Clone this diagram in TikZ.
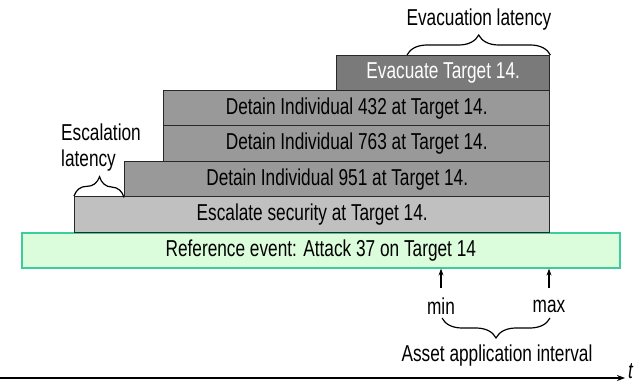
\documentclass[tikz,border=0pt]{standalone}
\usepackage{fontspec}
\setmainfont[FakeStretch=0.75]{Liberation Sans}
\usetikzlibrary{arrows.meta,decorations.pathreplacing}
\definecolor{evacgray}{RGB}{122,122,122}
\definecolor{detaingray}{RGB}{153,153,153}
\definecolor{escgray}{RGB}{192,192,192}
\definecolor{reffill}{RGB}{220,253,220}
\definecolor{refedge}{RGB}{60,205,155}
\definecolor{edge}{RGB}{40,40,40}
\newcommand{\lblfont}{\fontsize{23}{27}\selectfont}
\tikzset{
  bar/.style={draw=edge, line width=1.4pt, inner sep=0pt, anchor=north west,
    font=\lblfont},
  lbl/.style={inner sep=0pt, font=\lblfont},
  bracket/.style={decorate, decoration={brace, amplitude=20pt}, line width=1.2pt},
  tick/.style={line width=1.4pt, -{Stealth[length=7pt,width=5pt]}},
}
\begin{document}
\begin{tikzpicture}[x=1pt, y=-1pt]
  \useasboundingbox (0,0) rectangle (643,385);

  % reference event and the stacked actions above it
  \node[bar, draw=refedge, line width=1.6pt, fill=reffill, minimum width=598pt, minimum height=35pt]
    (ref) at (21,232) {Reference event: Attack 37 on Target 14};
  \node[bar, fill=escgray, minimum width=475pt, minimum height=36pt]
    (esc) at (74,196) {Escalate security at Target 14.};
  \node[bar, fill=detaingray, minimum width=425pt, minimum height=35pt]
    (d951) at (124,161) {Detain Individual 951 at Target 14.};
  \node[bar, fill=detaingray, minimum width=386pt, minimum height=36pt]
    (d763) at (163,125) {Detain Individual 763 at Target 14.};
  \node[bar, fill=detaingray, minimum width=386pt, minimum height=35pt]
    (d432) at (163,90) {Detain Individual 432 at Target 14.};
  \node[bar, fill=evacgray, text=white, minimum width=213pt, minimum height=35pt]
    (evac) at (336,55) {Evacuate Target 14.};

  % latency braces
  \coordinate (evacL) at (407,55);
  \draw[bracket] (evacL) -- (evac.north east);
  \node[lbl] (evaclbl) at (479,20) {Evacuation latency};

  \draw[bracket] (esc.north west) -- (d951.south west);
  \node[lbl, align=left, anchor=west, font=\fontsize{23}{26}\selectfont]
    (esclbl) at (61,148) {Escalation\\latency};

  % asset application interval
  \coordinate (minpt) at (441,288);
  \coordinate (maxpt) at (549,288);
  \draw[tick] (minpt) -- (ref.south -| minpt);
  \draw[tick] (maxpt) -- (ref.south -| maxpt);
  \node[lbl] (minlbl) at (441,306) {min};
  \node[lbl] (maxlbl) at (549,306) {max};
  \coordinate (bl) at (442,318);
  \coordinate (br) at (550,318);
  \draw[bracket] (br) -- (bl);
  \node[lbl] (asset) at (497,356) {Asset application interval};

  % time axis
  \coordinate (t0) at (0,378);
  \coordinate (t1) at (625,378);
  \draw[line width=1.4pt, -{Stealth[length=8pt,width=6pt]}] (t0) -- (t1);
  \node[lbl, anchor=west, font=\lblfont\itshape] (tlbl) at (628,371) {t};
\end{tikzpicture}
\end{document}
